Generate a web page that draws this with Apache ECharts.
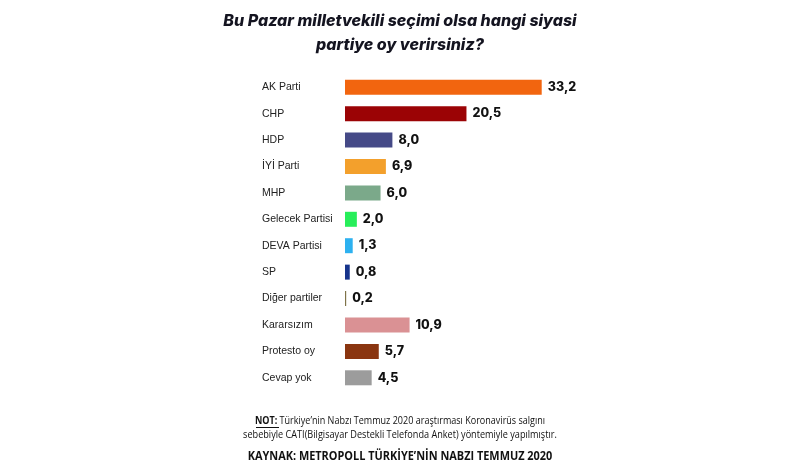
<!DOCTYPE html>
<html><head><meta charset="utf-8">
<script src="https://cdn.jsdelivr.net/npm/echarts@6/dist/echarts.min.js"></script>
<style>html,body{margin:0;padding:0;background:#fff}#c{width:800px;height:462px}</style>
</head><body><div id="c"></div>
<script>
const categories = ['AK Parti','CHP','HDP','İYİ Parti','MHP','Gelecek Partisi','DEVA Partisi','SP','Diğer partiler','Kararsızım','Protesto oy','Cevap yok'];
const values = [33.2,20.5,8.0,6.9,6.0,2.0,1.3,0.8,0.2,10.9,5.7,4.5];
const colors = ['#F2650F','#9B0305','#454A87','#F3A02C','#7BA98A','#27EE5A','#2DB1F0','#17348C','#7F7348','#DA9194','#8A3510','#9C9C9C'];

const chart = echarts.init(document.getElementById('c'));
chart.setOption({
  backgroundColor:'#fff',
  animation:false,
  title:{
    text:'Bu Pazar milletvekili seçimi olsa hangi siyasi\npartiye oy verirsiniz?',
    left:'center', top:4,
    textStyle:{fontFamily:'Inter',fontSize:16,fontWeight:800,fontStyle:'italic',color:'#141420',lineHeight:24}
  },
  grid:{left:345,top:74,width:237,height:317},
  xAxis:{type:'value',min:0,max:40,show:false},
  yAxis:{type:'category',data:categories,inverse:true,
    axisLine:{show:false},axisTick:{show:false},
    axisLabel:{align:'left',margin:83,fontFamily:'Liberation Sans',fontSize:10.5,color:'#222'}},
  series:[{type:'bar',barWidth:15,
    data:values.map((v,i)=>({value:v,itemStyle:{color:colors[i]}})),
    label:{show:true,position:'right',distance:6,fontFamily:'Inter',fontWeight:800,fontSize:12.5,color:'#111',
      formatter:p=>p.value.toFixed(1).replace('.',',')}}],
  graphic:[
    {type:'text',x:400,y:416,scaleX:0.86,style:{
      text:'{b|NOT:} Türkiye’nin Nabzı Temmuz 2020 araştırması Koronavirüs salgını',
      align:'center',fontFamily:'Open Sans',fontSize:10.5,fill:'#111',
      rich:{b:{fontFamily:'Open Sans',fontWeight:'bold',fontSize:10.5,fill:'#111'}}}},
    {type:'text',x:400,y:430,scaleX:0.87,style:{
      text:'sebebiyle CATI(Bilgisayar Destekli Telefonda Anket) yöntemiyle yapılmıştır.',
      align:'center',fontFamily:'Open Sans',fontSize:10.5,fill:'#111'}},
    {type:'line',shape:{x1:256,y1:427.5,x2:279,y2:427.5},style:{stroke:'#111',lineWidth:1}},
    {type:'text',x:400,y:450,scaleX:0.84,style:{
      text:'KAYNAK: METROPOLL TÜRKİYE’NİN NABZI TEMMUZ 2020',align:'center',
      fontFamily:'Open Sans',fontWeight:'bold',fontSize:13,fill:'#111'}}
  ]
});
</script></body></html>
